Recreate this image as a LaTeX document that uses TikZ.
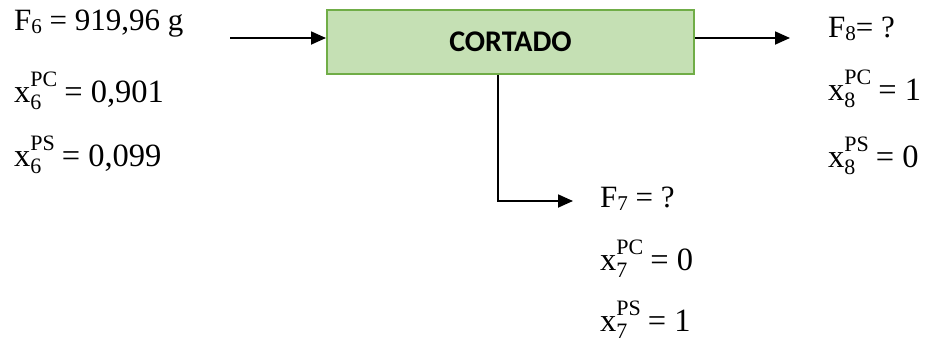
\documentclass[tikz,border=0pt]{standalone}
\usepackage{fontspec}
\setmainfont{Liberation Serif}
\newfontfamily\boxfont{Carlito}
\usetikzlibrary{arrows.meta}
\definecolor{boxfill}{HTML}{C5E0B4}
\definecolor{boxedge}{HTML}{70AD47}
% mass fraction: x with stream index below and component above
\newcommand\fracx[3]{x\rlap{\raisebox{-7pt}{\fontsize{22}{22}\selectfont #1}}\raisebox{16pt}{\fontsize{22}{22}\selectfont #2}\hspace{7pt}= #3}
\newcommand\flowF[2]{F\raisebox{-3pt}{\fontsize{0.68em}{1em}\selectfont #1}#2}
\begin{document}
\begin{tikzpicture}[x=1pt,y=-1pt,
  lbl/.style={anchor=base west, inner sep=0pt, font=\fontsize{32.5}{38}\selectfont},
  flowlbl/.style={anchor=base west, inner sep=0pt, font=\fontsize{31}{36}\selectfont},
  flow/.style={line width=1.8pt, -{Triangle[length=15pt,width=13pt]}}]
\useasboundingbox (0,0) rectangle (930,343);
% process unit
\node[draw=boxedge, line width=2pt, fill=boxfill, minimum width=367pt, minimum height=64pt,
      inner sep=0pt, font=\boxfont\bfseries\fontsize{30}{34}\selectfont] (cut) at (510.5,41.5) {CORTADO};
% feed stream 6
\node[flowlbl] (f6) at (14,30.5) {\flowF{6}{ = 919,96 g}};
\node[lbl] (x6pc) at (14,102) {\fracx{6}{PC}{0,901}};
\node[lbl] (x6ps) at (14,166) {\fracx{6}{PS}{0,099}};
% product stream 8
\node[flowlbl] (f8) at (828,37) {\flowF{8}{= ?}};
\node[lbl] (x8pc) at (828,100) {\fracx{8}{PC}{1}};
\node[lbl] (x8ps) at (828,167) {\fracx{8}{PS}{0}};
% product stream 7
\node[flowlbl] (f7) at (600,207) {\flowF{7}{ = ?}};
\node[lbl] (x7pc) at (600,270) {\fracx{7}{PC}{0}};
\node[lbl] (x7ps) at (600,331) {\fracx{7}{PS}{1}};
% connectors
\coordinate (in) at (230,38);
\coordinate (out) at (790,38);
\coordinate (bend) at (498,201);
\coordinate (down) at (573,201);
\draw[flow] (in) -- (in -| cut.west);
\draw[flow] (out -| cut.east) -- (out);
\draw[flow] (bend |- cut.south) -- (bend) -- (down);
\end{tikzpicture}
\end{document}
